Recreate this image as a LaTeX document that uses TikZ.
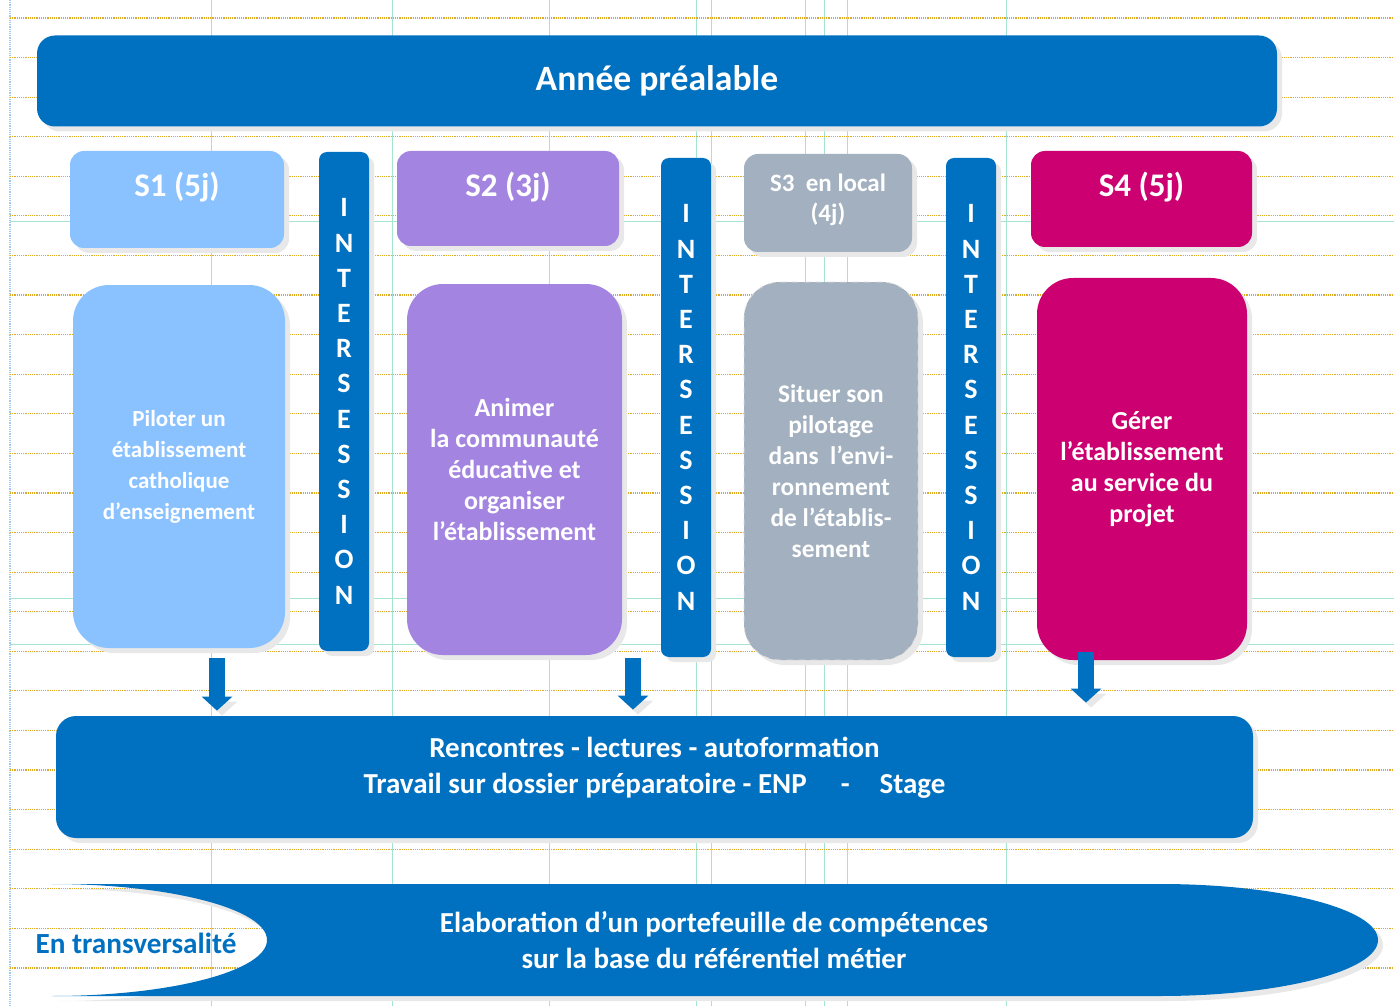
\documentclass[tikz,border=0pt]{standalone}
\usepackage{fontspec}
\setmainfont{Carlito}
\usetikzlibrary{shadows,arrows.meta}

\definecolor{barblue}{RGB}{0,112,192}
\definecolor{sonelight}{RGB}{137,194,255}
\definecolor{stwopurple}{RGB}{163,132,224}
\definecolor{sthreegray}{RGB}{162,176,191}
\definecolor{sfourpink}{RGB}{204,0,112}
\definecolor{gridgold}{RGB}{222,170,40}
\definecolor{gridgreen}{RGB}{165,228,205}
\definecolor{gridsky}{RGB}{160,200,240}

\begin{document}
\begin{tikzpicture}[x=0.5pt,y=-0.5pt,
  shade box/.style={inner sep=0pt, drop shadow={shadow xshift=2.5pt,shadow yshift=-2.5pt,fill=black!9,opacity=1}},
  headbox/.style={shade box, rounded corners=7pt},
  bodybox/.style={shade box, rounded corners=18pt, align=center, text=white,
    font=\fontsize{13}{15.5}\selectfont\bfseries},
  interbox/.style={shade box, rounded corners=4pt, fill=barblue, minimum width=25pt, minimum height=249.5pt},
  headtext/.style={text=white, font=\fontsize{16.5}{20}\selectfont\bfseries},
  intertext/.style={text=white, align=center, font=\fontsize{14}{17.6}\selectfont\bfseries},
  bandtext/.style={text=white, align=center, font=\fontsize{14.5}{17.8}\selectfont\bfseries},
  downarrow/.style={barblue, line width=8pt, -{Triangle[width=15pt,length=7pt]},
    preaction={draw=black!9, transform canvas={shift={(2.5pt,-2.5pt)}}}},
  gridh/.style={gridgold, line width=0.6pt, dash pattern=on 0.6pt off 0.5pt},
  gridv/.style={gridgreen, line width=0.5pt}]
\useasboundingbox (0,0) rectangle (1394,1006);

% grid of the page
\foreach \gx in {211,392,549,696,711,805,824,847,1006}
  \draw[gridv] (\gx,0) -- (\gx,1006);
\draw[gridsky, line width=0.6pt, dash pattern=on 0.6pt off 0.5pt] (10,0) -- (10,1006);
\foreach \gy in {222,598,644}
  \draw[gridv] (10,\gy) -- (1394,\gy);
\foreach \k in {0,...,24}
  \draw[gridh] (10,{18+39.58*\k}) -- (1394,{18+39.58*\k});

% top bar
\node[shade box, rounded corners=9pt, fill=barblue, minimum width=620pt, minimum height=45.5pt,
  text=white, font=\fontsize{17.8}{22}\selectfont\bfseries] (annee) at (657,81) {Année préalable};

% sessions
\node[headbox, fill=sonelight, minimum width=107pt, minimum height=48.5pt] (s1h) at (177,199.5) {};
\node[headtext] (s1t) at ([yshift=6pt]s1h.center) {S1 (5j)};
\node[bodybox, fill=sonelight, minimum width=106pt, minimum height=181.5pt,
  font=\fontsize{11.5}{15.5}\selectfont\bfseries] (s1b) at (179,466.5)
  {Piloter un\\établissement\\catholique\\d’enseignement};

\node[interbox] (is1) at (344,401.5) {};
\node[intertext] (is1t) at (is1.center) {I\\N\\T\\E\\R\\S\\E\\S\\S\\I\\O\\N};

\node[headbox, fill=stwopurple, minimum width=111pt, minimum height=47.5pt] (s2h) at (508,198.5) {};
\node[headtext] (s2t) at ([yshift=5.5pt]s2h.center) {S2 (3j)};
\node[bodybox, fill=stwopurple, minimum width=107.5pt, minimum height=185.5pt] (s2b) at (514.5,469.5)
  {Animer\\la communauté\\éducative et\\organiser\\l’établissement};

\node[interbox] (is2) at (686,407.5) {};
\node[intertext] (is2t) at (is2.center) {I\\N\\T\\E\\R\\S\\E\\S\\S\\I\\O\\N};

\node[headbox, fill=sthreegray, minimum width=84pt, minimum height=49pt] (s3h) at (828,203) {};
\node[text=white, align=center, font=\fontsize{12.5}{15}\selectfont\bfseries] (s3t)
  at ([yshift=1.5pt]s3h.center) {S3~ en local\\(4j)};
\node[bodybox, fill=sthreegray, draw=black!12, dashed, minimum width=87pt, minimum height=189pt,
  font=\fontsize{12.7}{15.5}\selectfont\bfseries] (s3b) at (831,471)
  {Situer son\\pilotage\\dans~ l’envi-\\ronnement\\de l’établis-\\sement};

\node[interbox] (is3) at (971,407.5) {};
\node[intertext] (is3t) at (is3.center) {I\\N\\T\\E\\R\\S\\E\\S\\S\\I\\O\\N};

\node[headbox, fill=sfourpink, minimum width=110.5pt, minimum height=48pt] (s4h) at (1141.5,199) {};
\node[headtext] (s4t) at ([yshift=6pt]s4h.center) {S4 (5j)};
\node[bodybox, fill=sfourpink, minimum width=105pt, minimum height=191pt] (s4b) at (1142,469)
  {Gérer\\l’établissement\\au service du\\projet};

% common work
\node[shade box, rounded corners=10pt, fill=barblue, minimum width=598.5pt, minimum height=61pt] (band) at (654.5,777) {};
\node[bandtext, font=\fontsize{14.5}{18}\selectfont\bfseries] (bandt) at ([yshift=4.5pt]band.center)
  {Rencontres - lectures - autoformation\\Travail sur dossier préparatoire - ENP\hspace{17pt}-\hspace{15pt}Stage};

\coordinate (a1) at (217,658);
\coordinate (a2) at (633,658);
\coordinate (a3) at (1086,652);
\draw[downarrow, shorten >=2.5pt] (a1) -- (a1 |- band.north);
\draw[downarrow, shorten >=3pt] (a2) -- (a2 |- band.north);
\draw[downarrow, shorten >=6.5pt] (a3) -- (a3 |- band.north);

% transversal band
\fill[barblue, drop shadow={shadow xshift=2.5pt,shadow yshift=-2.5pt,fill=black!9,opacity=1}]
  (55,884) -- (1160,884) arc[start angle=90, end angle=-90, x radius=109pt, y radius=28pt]
  -- (52,996) arc[start angle=-90, end angle=90, x radius=107.5pt, y radius=28pt] -- cycle;
\node[bandtext] (elab) at (714,940)
  {Elaboration d’un portefeuille de compétences\\sur la base du référentiel métier};
\node[text=barblue, font=\fontsize{14.6}{16}\selectfont\bfseries] (transv) at (136,943) {En transversalité};
\end{tikzpicture}
\end{document}
